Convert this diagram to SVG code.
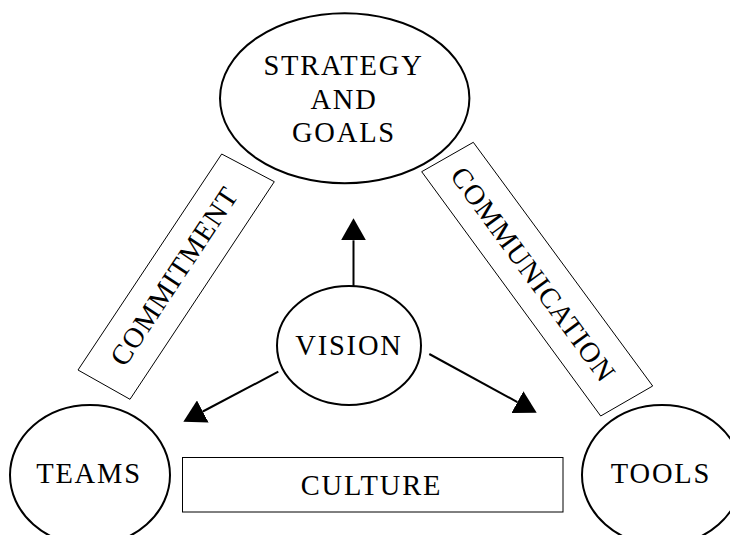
<svg xmlns="http://www.w3.org/2000/svg" width="730" height="535" viewBox="0 0 730 535">
<style>
.node{fill:#fff;stroke:#000;stroke-width:2}
.box{fill:#fff;stroke:#000;stroke-width:1}
.t{font-family:"Liberation Serif","Times New Roman",serif;font-size:28.5px;letter-spacing:1.8px;text-anchor:middle;fill:#000}
.rt{letter-spacing:1px}
.conn{stroke:#000;stroke-width:2;fill:none;marker-end:url(#ah)}
</style>
<defs>
<marker id="ah" markerUnits="userSpaceOnUse" viewBox="0 0 22 25" refX="0" refY="12.5" markerWidth="22" markerHeight="25" orient="auto">
<path d="M0,0 L22,12.5 L0,25 Z" fill="#000"/>
</marker>
</defs>
<rect width="730" height="535" fill="#fff"/>
<g id="strategy">
<ellipse class="node" cx="344.7" cy="98.3" rx="124.7" ry="85"/>
<text class="t" x="343.5" y="75">STRATEGY</text>
<text class="t" x="344" y="109">AND</text>
<text class="t" x="344" y="142">GOALS</text>
</g>
<g id="commitment">
<polygon class="box" points="221.7,154 274.3,181.7 130,399.3 78,370"/>
<text class="t rt" transform="translate(176,276.2) rotate(-56.45)" x="-1" y="8">COMMITMENT</text>
</g>
<g id="communication">
<polygon class="box" points="473.3,142.3 652.7,386 600.7,416 421.7,171.7"/>
<text class="t rt" transform="translate(537.1,279) rotate(53.8)" x="-6" y="10">COMMUNICATION</text>
</g>
<g id="vision">
<ellipse class="node" cx="349" cy="345.5" rx="72" ry="59.5"/>
<text class="t" x="349" y="355">VISION</text>
</g>
<g id="teams">
<ellipse class="node" cx="90" cy="475" rx="80" ry="70"/>
<text class="t" x="89" y="483">TEAMS</text>
</g>
<g id="tools">
<ellipse class="node" cx="662" cy="475" rx="80" ry="70"/>
<text class="t" x="661" y="483">TOOLS</text>
</g>
<g id="culture">
<rect class="box" x="182.5" y="457.5" width="380.5" height="54.5"/>
<text class="t" x="371.5" y="495">CULTURE</text>
</g>
<g id="connectors">
<line class="conn" x1="353.5" y1="286" x2="353.5" y2="240.3"/>
<line class="conn" x1="278.3" y1="371.7" x2="202.8" y2="411.5"/>
<line class="conn" x1="429.3" y1="354" x2="517.4" y2="402.1"/>
</g>
</svg>
